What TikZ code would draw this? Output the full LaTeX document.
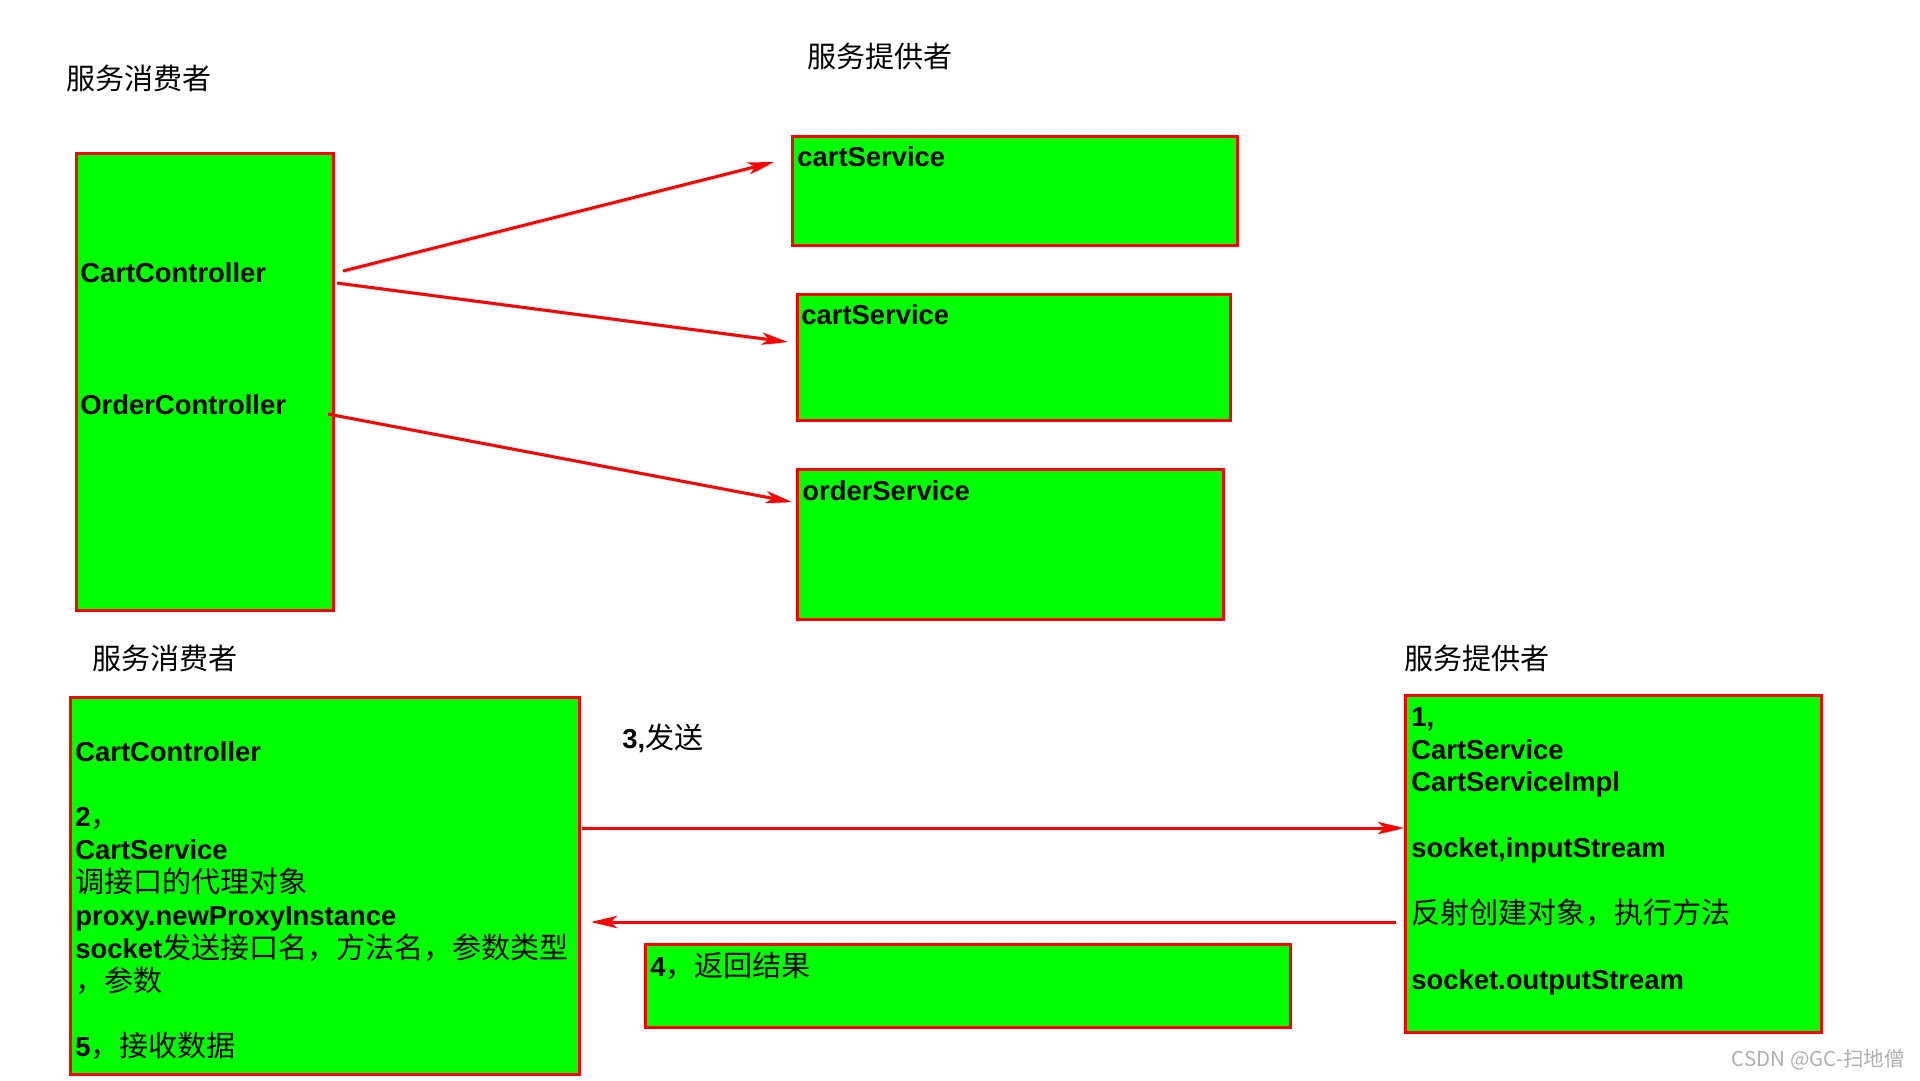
\documentclass[tikz,border=0pt]{standalone}
\usepackage{fontspec}
\setmainfont{Liberation Sans}
\newfontfamily\cjk[Scale=1.06]{Noto Sans CJK SC}
\usetikzlibrary{arrows.meta, positioning}
\definecolor{vertBoite}{RGB}{0, 255, 0}
\definecolor{rougeBord}{RGB}{255, 0, 0}
\definecolor{griOmbre}{RGB}{150, 150, 150}
\definecolor{griMarque}{RGB}{175, 175, 175}
\newcommand{\zh}[1]{{\cjk\mdseries #1}}

\begin{document}
\begin{tikzpicture}[
  x=0.02cm, y=-0.02cm,
  boite/.style={rectangle, draw=rougeBord, fill=vertBoite, line width=1.7pt,
    inner sep=0pt, anchor=north west},
  txt/.style={inner sep=0pt, align=left, anchor=north west,
    font=\bfseries\fontsize{15.6}{18.7}\selectfont},
  lbl/.style={inner sep=0pt, anchor=west, font=\fontsize{15.6}{18.7}\selectfont\cjk},
  arr/.style={draw=rougeBord, line width=1.7pt,
    -{Stealth[length=15pt, width=7pt, inset=4pt]},
    preaction={draw=griOmbre, opacity=0.5, transform canvas={shift={(0.8pt,-1pt)}}}},
]
\useasboundingbox (0,0) rectangle (1920,1080);
% haut : un consommateur, plusieurs fournisseurs
\node[lbl] (tConsA) at (66,78)  {服务消费者};
\node[lbl] (tProvA) at (807,56) {服务提供者};
\node[boite, minimum width=5.14cm, minimum height=9.14cm] (consA) at (75,152) {};
\node[txt, anchor=west] (ctlCart)  at (80,273) {CartController};
\node[txt, anchor=west] (ctlOrder) at (80,405) {OrderController};
\node[boite, minimum width=8.9cm,  minimum height=2.18cm] (svcA) at (791,135) {};
\node[boite, minimum width=8.66cm, minimum height=2.52cm] (svcB) at (796,293) {};
\node[boite, minimum width=8.52cm, minimum height=3.0cm]  (svcC) at (796,468) {};
\node[txt, anchor=west] (svcAtxt) at (797,157) {cartService};
\node[txt, anchor=west] (svcBtxt) at (801,315) {cartService};
\node[txt, anchor=west] (svcCtxt) at (802,491) {orderService};
\coordinate (a1s) at (343,271);
\coordinate (a1e) at (774,162);
\coordinate (a2s) at (337,283);
\coordinate (a2e) at (788,342);
\coordinate (a3s) at (328,414);
\coordinate (a3e) at (792,502);
\draw[arr] (a1s) -- (a1e);
\draw[arr] (a2s) -- (a2e);
\draw[arr] (a3s) -- (a3e);
% bas : appel distant par socket
\node[lbl] (tConsB) at (92,658)   {服务消费者};
\node[lbl] (tProvB) at (1404,658) {服务提供者};
\node[boite, minimum width=10.18cm, minimum height=7.54cm] (consB)  at (69,696)  {};
\node[boite, minimum width=8.32cm,  minimum height=6.74cm] (provB)  at (1404,694) {};
\node[boite, minimum width=12.9cm,  minimum height=1.66cm] (retour) at (644,943) {};
\node[txt] (consBtxt) at (75,741) {CartController\\ \mbox{}\\ 2\zh{，}\\ CartService\\
  \zh{调接口的代理对象}\\ proxy.newProxyInstance\\ socket\zh{发送接口名，方法名，参数类型}\\
  \zh{，参数}\\ \mbox{}\\ 5\zh{，接收数据}};
\node[txt] (provBtxt) at (1411,707) {1,\\ CartService\\ CartServiceImpl\\ \mbox{}\\
  socket,inputStream\\ \mbox{}\\ \zh{反射创建对象，执行方法}\\ \mbox{}\\ socket.outputStream};
\node[txt, anchor=west] (envoi)  at (622,738) {3,\zh{发送}};
\node[txt, anchor=west] (retTxt) at (650,966) {4\zh{，返回结果}};
\coordinate (envS) at (582,828);
\coordinate (retS) at (1396,922);
\draw[arr] (envS) -- (provB.west |- envS);
\draw[arr, shorten >=0.2cm] (retS) -- (consB.east |- retS);
\node[font=\fontsize{11}{13}\selectfont\cjk, text=griMarque, anchor=east,
  inner sep=0pt] (marque) at (1905,1060) {CSDN @GC-扫地僧};
\end{tikzpicture}
\end{document}
